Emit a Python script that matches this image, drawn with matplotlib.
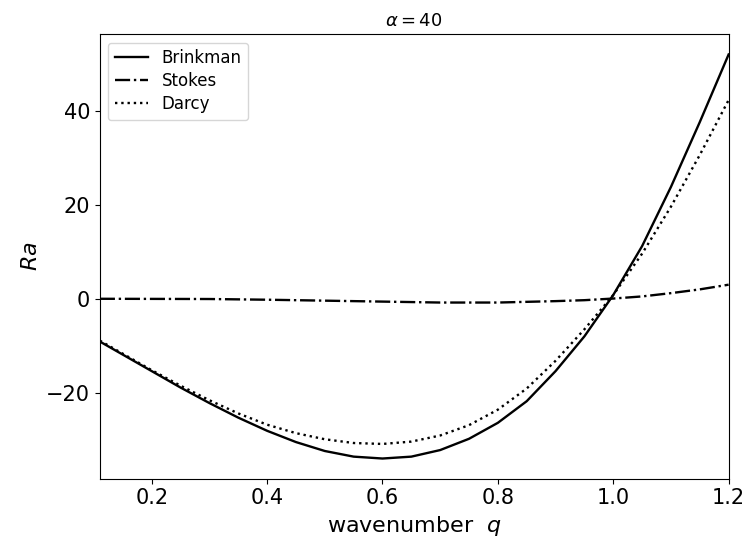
import numpy as np
import matplotlib
matplotlib.use('Agg')
from matplotlib import pyplot as plt

# wavenumber samples
q_brinkman = [0.11, 0.15, 0.2, 0.25, 0.3, 0.35, 0.4, 0.45, 0.5, 0.55, 0.6, 0.65,
              0.7, 0.75, 0.8, 0.85, 0.9, 0.95, 1.0, 1.05, 1.1, 1.15, 1.2]
ra_brinkman = [-9.1, -11.9, -15.4, -18.9, -22.2, -25.3, -28.1, -30.5, -32.4, -33.6, -34.0, -33.6,
               -32.2, -29.8, -26.4, -21.8, -15.4, -8.0, 0.8, 11.2, 23.8, 37.6, 52.0]

q_stokes = [0.11, 0.3, 0.4, 0.5, 0.6, 0.7, 0.8, 0.9, 0.95, 1.0, 1.05, 1.1, 1.15, 1.2]
ra_stokes = [0.0, -0.05, -0.2, -0.4, -0.6, -0.8, -0.8, -0.5, -0.3, 0.05, 0.5, 1.2, 2.0, 3.0]

q_darcy = [0.11, 0.15, 0.2, 0.25, 0.3, 0.35, 0.4, 0.45, 0.5, 0.55, 0.6, 0.65,
           0.7, 0.75, 0.8, 0.85, 0.9, 0.95, 1.0, 1.05, 1.1, 1.15, 1.2]
ra_darcy = [-8.9, -11.7, -15.2, -18.5, -21.6, -24.4, -26.8, -28.6, -29.9, -30.7, -30.9, -30.4,
            -29.1, -26.9, -23.6, -19.1, -13.2, -6.5, 0.8, 9.6, 19.6, 30.6, 42.3]

fig = plt.figure(figsize=(7.45, 5.44), dpi=100)
ax = fig.add_axes([0.134, 0.12, 0.844, 0.817])

ax.plot(q_brinkman, ra_brinkman, 'k-', lw=1.7, label='Brinkman')
ax.plot(q_stokes, ra_stokes, 'k-.', lw=1.7, label='Stokes')
ax.plot(q_darcy, ra_darcy, 'k:', lw=1.7, label='Darcy')

ax.set_xlim(0.11, 1.2)
ax.set_xticks([0.2, 0.4, 0.6, 0.8, 1.0, 1.2])
ax.tick_params(labelsize=15)
ax.set_xlabel(r'wavenumber  $q$', fontsize=16)
ax.set_ylabel(r'$Ra$', fontsize=16)
ax.set_title(r'$\alpha = 40$', fontsize=13)
ax.legend(loc='upper left', fontsize=12, labelspacing=0.3)

plt.savefig('out.png', dpi=100)
